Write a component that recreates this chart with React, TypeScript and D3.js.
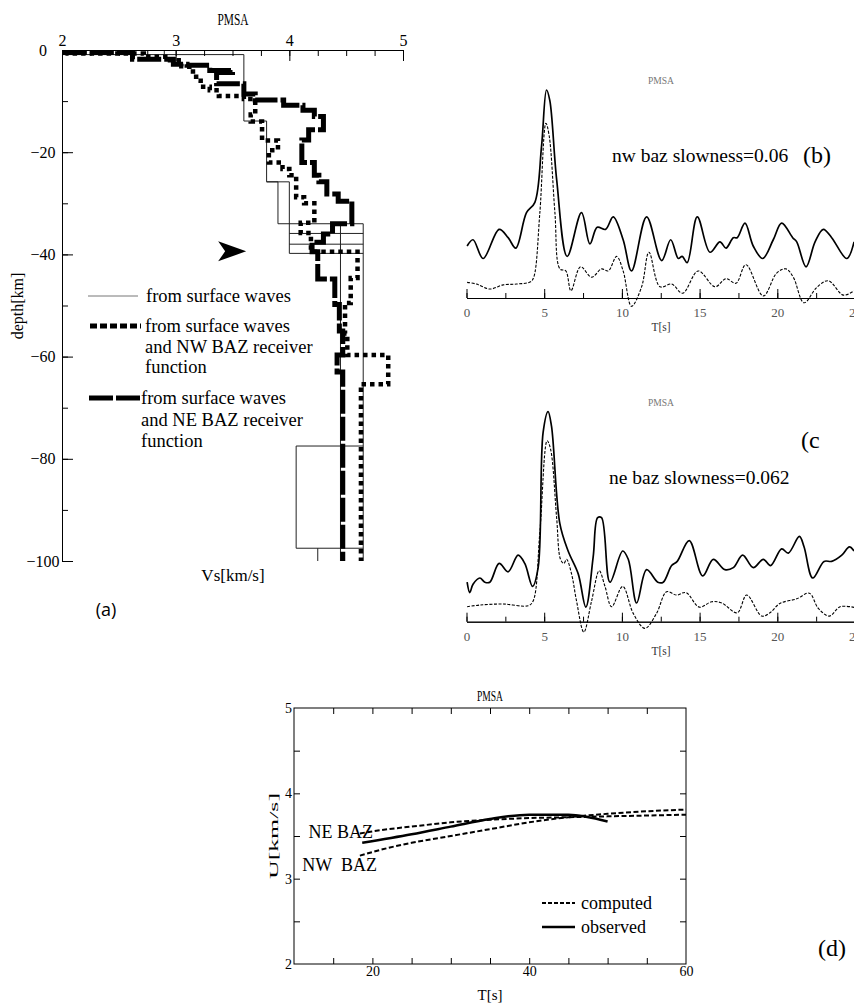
import React, { useEffect, useRef } from 'react';
import * as d3 from 'd3';

const serif = "'Liberation Serif', 'Times New Roman', serif";

// (a) shear-wave velocity models: [Vs km/s, depth km]
const nwBazProfile = [
  [2.05, 0], [2.05, 0.7], [2.72, 0.7], [2.72, 1.3], [2.95, 1.3], [2.95, 2.0], [3.05, 2.0], [3.05, 3.2],
  [3.12, 3.2], [3.12, 4.2], [3.18, 4.2], [3.18, 6.0], [3.22, 6.0], [3.22, 7.2], [3.30, 7.2], [3.30, 7.9],
  [3.38, 7.9], [3.38, 9.0], [3.60, 9.0], [3.60, 9.6], [3.70, 9.6], [3.70, 12.6], [3.66, 12.6], [3.66, 14.0],
  [3.76, 14.0], [3.76, 17.7], [3.90, 17.7], [3.90, 19.6], [3.82, 19.6], [3.82, 22.0], [3.94, 22.0], [3.94, 23.3],
  [4.00, 23.3], [4.00, 24.5], [4.06, 24.5], [4.06, 28.8], [4.13, 28.8], [4.13, 30.0], [4.22, 30.0], [4.22, 33.8],
  [4.10, 33.8], [4.10, 35.8], [4.19, 35.8], [4.19, 39.5], [4.60, 39.5], [4.60, 44.6], [4.54, 44.6], [4.54, 49.5],
  [4.49, 49.5], [4.49, 55.5], [4.51, 55.5], [4.51, 59.7], [4.87, 59.7], [4.87, 65.4], [4.63, 65.4], [4.63, 100],
];
const neBazProfile = [
  [2.03, 0], [2.03, 0.5], [2.62, 0.5], [2.62, 1.8], [2.98, 1.8], [2.98, 2.8], [3.10, 2.8], [3.10, 3.0],
  [3.30, 3.0], [3.30, 4.0], [3.50, 4.0], [3.50, 4.4], [3.36, 4.4], [3.36, 6.6], [3.60, 6.6], [3.60, 8.6],
  [3.70, 8.6], [3.70, 9.8], [3.95, 9.8], [3.95, 10.8], [4.12, 10.8], [4.12, 11.8], [4.22, 11.8], [4.22, 13.0],
  [4.30, 13.0], [4.30, 15.6], [4.17, 15.6], [4.17, 17.6], [4.11, 17.6], [4.11, 22.0], [4.22, 22.0], [4.22, 24.5],
  [4.26, 24.5], [4.26, 25.8], [4.33, 25.8], [4.33, 28.2], [4.43, 28.2], [4.43, 29.6], [4.55, 29.6], [4.55, 34.0],
  [4.38, 34.0], [4.38, 36.0], [4.30, 36.0], [4.30, 37.6], [4.20, 37.6], [4.20, 39.5], [4.25, 39.5], [4.25, 44.8],
  [4.40, 44.8], [4.40, 49.8], [4.44, 49.8], [4.44, 55.0], [4.47, 55.0], [4.47, 59.7], [4.42, 59.7], [4.42, 63.0],
  [4.47, 63.0], [4.47, 100],
];
const surfaceModels = [
  [[2.9, 0], [2.9, 0.9]],
  [[2.0, 0.9], [3.6, 0.9], [3.6, 13.9], [3.8, 13.9], [3.8, 25.8], [3.9, 25.8], [3.9, 34], [4.65, 34], [4.65, 100]],
  [[3.8, 25.8], [4.0, 25.8], [4.0, 39.8], [4.65, 39.8]],
  [[4.0, 35.9], [4.65, 35.9]],
  [[4.0, 38.0], [4.65, 38.0]],
  [[4.45, 34], [4.45, 100]],
  [[4.65, 77.5], [4.06, 77.5], [4.06, 97.5], [4.65, 97.5]],
  [[4.25, 97.5], [4.25, 100]],
];
const vsTicks = [2, 3, 4, 5];
const vsMinorTicks = d3.range(2, 5.01, 0.25);
const depthTicks = [0, 20, 40, 60, 80, 100];
const depthMinorTicks = d3.range(0, 101, 10);

// (b) NW back-azimuth receiver functions: [time s, amplitude]
const nwObserved = [
  [0.04, 0.25], [0.42, 0.28], [1.07, 0.19], [2.10, 0.33], [2.68, 0.29], [3.17, 0.24], [3.86, 0.41], [4.40, 0.46],
  [4.83, 0.73], [5.15, 1.0], [5.36, 0.95], [5.80, 0.57], [6.48, 0.20], [7.40, 0.41], [7.94, 0.26], [8.41, 0.34],
  [8.95, 0.33], [9.44, 0.39], [10.08, 0.28], [10.62, 0.13], [11.59, 0.39], [12.56, 0.18], [13.14, 0.28], [13.63, 0.19],
  [13.88, 0.20], [14.20, 0.17], [14.85, 0.39], [15.67, 0.22], [16.31, 0.27], [16.70, 0.24], [17.17, 0.29], [17.42, 0.29],
  [17.92, 0.36], [18.45, 0.25], [19.06, 0.19], [19.74, 0.28], [20.28, 0.36], [20.99, 0.29], [21.25, 0.27], [21.85, 0.15],
  [22.43, 0.27], [22.96, 0.33], [23.50, 0.29], [24.47, 0.19], [24.94, 0.27],
];
const nwComputed = [
  [0.04, 0.075], [0.64, 0.067], [1.50, 0.043], [2.36, 0.063], [3.22, 0.067], [4.12, 0.078], [4.33, 0.10], [4.72, 0.41],
  [5.11, 0.84], [5.32, 0.78], [5.69, 0.41], [6.01, 0.14], [6.39, 0.13], [6.72, 0.035], [7.34, 0.15], [8.05, 0.10],
  [8.69, 0.14], [9.12, 0.13], [9.66, 0.20], [10.08, 0.13], [10.62, -0.04], [11.27, 0.054], [11.74, 0.22], [12.45, 0.054],
  [13.20, 0.067], [13.91, 0.023], [14.91, 0.13], [15.99, 0.054], [16.70, 0.093], [17.34, 0.071], [17.98, 0.16], [19.10, 0.01],
  [19.96, 0.12], [20.56, 0.14], [21.03, 0.10], [21.72, -0.023], [22.54, 0.051], [23.28, 0.083], [24.25, 0.014], [24.94, 0.035],
];

// (c) NE back-azimuth receiver functions
const neObserved = [
  [0.04, 0.19], [0.21, 0.14], [0.42, 0.18], [0.86, 0.21], [1.18, 0.19], [1.50, 0.19], [2.10, 0.28], [2.68, 0.24],
  [3.32, 0.32], [3.75, 0.28], [4.25, 0.17], [4.61, 0.26], [4.93, 0.91], [5.25, 1.01], [5.47, 0.94], [6.01, 0.47],
  [6.54, 0.34], [7.19, 0.23], [7.68, 0.07], [8.15, 0.31], [8.44, 0.50], [8.69, 0.50], [9.23, 0.19], [10.05, 0.34],
  [10.41, 0.30], [10.95, 0.09], [11.59, 0.25], [12.31, 0.19], [12.66, 0.19], [13.20, 0.27], [13.56, 0.29], [14.33, 0.39],
  [15.20, 0.22], [15.88, 0.30], [16.63, 0.25], [17.17, 0.26], [17.77, 0.32], [18.45, 0.26], [19.10, 0.30], [19.57, 0.27],
  [20.28, 0.35], [20.71, 0.33], [21.42, 0.41], [21.72, 0.36], [22.28, 0.21], [23.01, 0.29], [23.50, 0.29], [24.15, 0.32],
  [24.64, 0.36], [24.94, 0.34],
];
const neComputed = [
  [0.04, 0.072], [0.86, 0.08], [2.36, 0.085], [3.97, 0.077], [4.29, 0.10], [4.72, 0.43], [5.19, 0.87], [5.41, 0.83],
  [5.80, 0.50], [6.05, 0.30], [6.27, 0.28], [6.44, 0.30], [6.76, 0.23], [7.08, 0.10], [7.55, -0.05], [8.05, 0.10],
  [8.54, 0.245], [8.91, 0.17], [9.34, 0.072], [10.05, 0.17], [10.73, 0.04], [11.48, -0.032], [12.23, 0.04], [12.88, 0.144],
  [13.52, 0.128], [14.12, 0.14], [14.98, 0.07], [15.78, 0.096], [16.42, 0.09], [17.42, 0.043], [18.03, 0.128], [19.0, 0.027],
  [19.53, 0.043], [20.17, 0.088], [21.25, 0.11], [22.06, 0.137], [22.64, 0.064], [23.35, 0.027], [24.04, 0.072], [24.94, 0.069],
];
const timeTicks = [0, 5, 10, 15, 20, 25];
const timeMinorTicks = d3.range(0, 25.1, 2.5);

// (d) group velocity dispersion: [period s, U km/s]
const neBazComputed = [[18.4, 3.53], [22, 3.58], [25, 3.61], [30, 3.66], [35, 3.69], [40, 3.71], [45, 3.72], [50, 3.73], [55, 3.74], [60, 3.75]];
const nwBazComputed = [[18.4, 3.27], [22, 3.36], [25, 3.42], [30, 3.50], [35, 3.58], [40, 3.66], [45, 3.72], [50, 3.76], [55, 3.79], [60, 3.81]];
const observedDispersion = [[18.7, 3.42], [25, 3.52], [30, 3.61], [35, 3.70], [40, 3.75], [45, 3.75], [50, 3.67]];
const periodTicks = [20, 40, 60];
const periodMinorTicks = d3.range(15, 60, 5);
const uTicks = [2, 3, 4, 5];
const uMinorTicks = d3.range(2.5, 5, 0.5);

function styleAxis(g: any, size: number, color = '#000') {
  g.attr('font-family', serif).attr('font-size', size);
  g.selectAll('.domain').attr('stroke', '#000');
  g.selectAll('.tick line').attr('stroke', '#000');
  g.selectAll('text').attr('fill', color);
}

function drawProfiles(svg: any) {
  const x = d3.scaleLinear().domain([2, 5]).range([62, 403]);
  const y = d3.scaleLinear().domain([0, 100]).range([50, 561]);
  const line = d3.line<number[]>().x(d => x(d[0])).y(d => y(d[1]));
  const g = svg.append('g');

  surfaceModels.forEach(m => {
    g.append('path').attr('d', line(m)).attr('fill', 'none').attr('stroke', '#222').attr('stroke-width', 1);
  });
  g.append('path').attr('d', line(nwBazProfile)).attr('fill', 'none').attr('stroke', '#000')
    .attr('stroke-width', 4.5).attr('stroke-dasharray', '4.5 4');
  g.append('path').attr('d', line(neBazProfile)).attr('fill', 'none').attr('stroke', '#000')
    .attr('stroke-width', 5).attr('stroke-dasharray', '24 3');

  g.append('g').attr('transform', 'translate(0,50)')
    .call(d3.axisTop(x).tickValues(vsMinorTicks).tickSize(-6).tickSizeOuter(0).tickFormat(() => ''));
  const top = g.append('g').attr('transform', 'translate(0,50)')
    .call(d3.axisTop(x).tickValues(vsTicks).tickSize(-11).tickSizeOuter(0).tickPadding(4).tickFormat(d3.format('d')));
  styleAxis(top, 16);

  g.append('g').attr('transform', 'translate(62,0)')
    .call(d3.axisLeft(y).tickValues(depthMinorTicks).tickSize(-6).tickSizeOuter(0).tickFormat(() => ''));
  const left = g.append('g').attr('transform', 'translate(62,0)')
    .call(d3.axisLeft(y).tickValues(depthTicks).tickSize(-11).tickSizeOuter(0)
      .tickFormat((d: any) => (d === 0 ? '0' : '\u2212' + d)));
  styleAxis(left, 16);
  left.selectAll('text').attr('x', -19).attr('text-anchor', 'middle');

  g.append('text').attr('x', 233).attr('y', 25).attr('text-anchor', 'middle').attr('font-family', serif)
    .attr('font-size', 16).attr('textLength', 31).attr('lengthAdjust', 'spacingAndGlyphs').text('PMSA');
  g.append('text').attr('x', 233).attr('y', 581).attr('text-anchor', 'middle').attr('font-family', serif)
    .attr('font-size', 17).text('Vs[km/s]');
  g.append('text').attr('transform', 'translate(23,306) rotate(-90)').attr('text-anchor', 'middle')
    .attr('font-family', serif).attr('font-size', 16).text('depth[km]');
  g.append('text').attr('x', 106).attr('y', 616).attr('text-anchor', 'middle')
    .attr('font-family', "'Open Sans', 'DejaVu Sans', sans-serif").attr('font-size', 18).text('(a)');

  // arrow pointing at the Moho
  const tx = x(3.62), ty = y(39.4);
  g.append('polygon')
    .attr('points', [[tx, ty], [tx - 28, ty - 10], [tx - 21, ty], [tx - 28, ty + 10]].map(p => p.join(',')).join(' '))
    .attr('fill', '#000');

  // legend
  const leg = g.append('g').attr('font-family', serif).attr('font-size', 18.5);
  leg.append('line').attr('x1', 88).attr('x2', 138).attr('y1', 296).attr('y2', 296).attr('stroke', '#777').attr('stroke-width', 1);
  leg.append('text').attr('x', 146).attr('y', 302).text('from surface waves');
  leg.append('line').attr('x1', 90).attr('x2', 141).attr('y1', 326).attr('y2', 326).attr('stroke', '#000')
    .attr('stroke-width', 5).attr('stroke-dasharray', '7 3');
  ['from surface waves', 'and NW BAZ receiver', 'function'].forEach((t, i) => {
    leg.append('text').attr('x', 145).attr('y', 332 + i * 20.5).text(t);
  });
  leg.append('line').attr('x1', 89).attr('x2', 140).attr('y1', 398).attr('y2', 398).attr('stroke', '#000')
    .attr('stroke-width', 5).attr('stroke-dasharray', '24 3');
  ['from surface waves', 'and NE BAZ receiver', 'function'].forEach((t, i) => {
    leg.append('text').attr('x', 141).attr('y', 404 + i * 21.5).text(t);
  });
}

function drawReceiver(svg: any, axisY: number, obs: number[][], comp: number[][], title: string, titleX: number,
  titleY: number, tag: string, tagX: number, tagY: number, headY: number) {
  const x = d3.scaleLinear().domain([0, 25]).range([466.5, 855]);
  const y = d3.scaleLinear().domain([0, 1]).range([axisY, axisY - 208]);
  const line = d3.line<number[]>().x(d => x(d[0])).y(d => y(d[1])).curve(d3.curveCatmullRom.alpha(0.5));
  const g = svg.append('g');

  g.append('g').attr('transform', `translate(0,${axisY})`)
    .call(d3.axisBottom(x).tickValues(timeMinorTicks).tickSize(-5).tickSizeOuter(0).tickFormat(() => ''));
  const ax = g.append('g').attr('transform', `translate(0,${axisY})`)
    .call(d3.axisBottom(x).tickValues(timeTicks).tickSize(-9).tickSizeOuter(0).tickPadding(10).tickFormat(d3.format('d')));
  styleAxis(ax, 13, '#555');

  g.append('path').attr('d', line(comp)).attr('fill', 'none').attr('stroke', '#000')
    .attr('stroke-width', 1.1).attr('stroke-dasharray', '3 1.5');
  g.append('path').attr('d', line(obs)).attr('fill', 'none').attr('stroke', '#000').attr('stroke-width', 1.7);

  g.append('text').attr('x', 661).attr('y', axisY + 33).attr('text-anchor', 'middle').attr('font-family', serif)
    .attr('font-size', 13).attr('fill', '#333').attr('textLength', 19).attr('lengthAdjust', 'spacingAndGlyphs').text('T[s]');
  g.append('text').attr('x', 661).attr('y', headY).attr('text-anchor', 'middle').attr('font-family', serif)
    .attr('font-size', 11).attr('fill', '#777').attr('textLength', 26).attr('lengthAdjust', 'spacingAndGlyphs').text('PMSA');
  g.append('text').attr('x', titleX).attr('y', titleY).attr('font-family', serif).attr('font-size', 19.5).text(title);
  g.append('text').attr('x', tagX).attr('y', tagY).attr('font-family', serif).attr('font-size', 24).text(tag);
}

function drawDispersion(svg: any) {
  const x = d3.scaleLinear().domain([10, 60]).range([294, 686]);
  const y = d3.scaleLinear().domain([2, 5]).range([964, 708]);
  const line = d3.line<number[]>().x(d => x(d[0])).y(d => y(d[1])).curve(d3.curveMonotoneX);
  const g = svg.append('g');

  g.append('rect').attr('x', 294).attr('y', 708).attr('width', 392).attr('height', 256)
    .attr('fill', 'none').attr('stroke', '#000');
  g.append('g').attr('transform', 'translate(0,964)')
    .call(d3.axisBottom(x).tickValues(periodMinorTicks).tickSize(-6).tickSizeOuter(0).tickFormat(() => ''));
  const bx = g.append('g').attr('transform', 'translate(0,964)')
    .call(d3.axisBottom(x).tickValues(periodTicks).tickSize(0).tickSizeOuter(0).tickPadding(2).tickFormat(d3.format('d')));
  styleAxis(bx, 14);
  g.append('g').attr('transform', 'translate(0,708)')
    .call(d3.axisTop(x).tickValues(periodMinorTicks).tickSize(-6).tickSizeOuter(0).tickFormat(() => ''));
  g.append('g').attr('transform', 'translate(294,0)')
    .call(d3.axisLeft(y).tickValues(uMinorTicks).tickSize(-6).tickSizeOuter(0).tickFormat(() => ''));
  const ly = g.append('g').attr('transform', 'translate(294,0)')
    .call(d3.axisLeft(y).tickValues(uTicks).tickSize(0).tickSizeOuter(0).tickPadding(2).tickFormat(d3.format('d')));
  styleAxis(ly, 14);
  g.append('g').attr('transform', 'translate(686,0)')
    .call(d3.axisRight(y).tickValues(uMinorTicks).tickSize(-6).tickSizeOuter(0).tickFormat(() => ''));
  g.selectAll('.domain').attr('stroke', 'none');

  g.append('path').attr('d', line(neBazComputed)).attr('fill', 'none').attr('stroke', '#000')
    .attr('stroke-width', 2).attr('stroke-dasharray', '5 2.5');
  g.append('path').attr('d', line(nwBazComputed)).attr('fill', 'none').attr('stroke', '#000')
    .attr('stroke-width', 2).attr('stroke-dasharray', '5 2.5');
  g.append('path').attr('d', line(observedDispersion)).attr('fill', 'none').attr('stroke', '#000').attr('stroke-width', 2.5);

  const f = g.append('g').attr('font-family', serif);
  f.append('text').attr('x', 490).attr('y', 701).attr('text-anchor', 'middle').attr('font-size', 14)
    .attr('textLength', 26).attr('lengthAdjust', 'spacingAndGlyphs').text('PMSA');
  f.append('text').attr('x', 490).attr('y', 1000).attr('text-anchor', 'middle').attr('font-size', 15).text('T[s]');
  f.append('text').attr('transform', 'translate(278,836) rotate(-90)').attr('text-anchor', 'middle').attr('font-size', 12)
    .attr('textLength', 86).attr('lengthAdjust', 'spacingAndGlyphs').text('U[km/s]');
  f.append('text').attr('x', 373).attr('y', 838).attr('text-anchor', 'end').attr('font-size', 18).text('NE BAZ');
  f.append('text').attr('x', 377).attr('y', 871).attr('text-anchor', 'end').attr('font-size', 18)
    .attr('xml:space', 'preserve').text('NW  BAZ');
  f.append('text').attr('x', 832).attr('y', 956).attr('text-anchor', 'middle').attr('font-size', 24).text('(d)');

  f.append('line').attr('x1', 542).attr('x2', 575).attr('y1', 903).attr('y2', 903).attr('stroke', '#000')
    .attr('stroke-width', 2).attr('stroke-dasharray', '4 2');
  f.append('text').attr('x', 581).attr('y', 909).attr('font-size', 18).text('computed');
  f.append('line').attr('x1', 542).attr('x2', 575).attr('y1', 927).attr('y2', 927).attr('stroke', '#000').attr('stroke-width', 2.5);
  f.append('text').attr('x', 581).attr('y', 933).attr('font-size', 18).text('observed');
}

export default function App() {
  const ref = useRef<SVGSVGElement>(null);

  useEffect(() => {
    const svg = d3.select(ref.current);
    svg.selectAll('*').remove();
    drawProfiles(svg);
    drawReceiver(svg, 298, nwObserved, nwComputed, 'nw baz slowness=0.06', 612, 162, '(b)', 803, 163, 84);
    drawReceiver(svg, 621.7, neObserved, neComputed, 'ne baz slowness=0.062', 609, 484, '(c', 801, 448, 406);
    drawDispersion(svg);
  }, []);

  return (
    <svg ref={ref} width={854} height={1003} viewBox='0 0 854 1003'
      style={{ position: 'absolute', left: 0, top: 0, background: '#fff' }} />
  );
}
